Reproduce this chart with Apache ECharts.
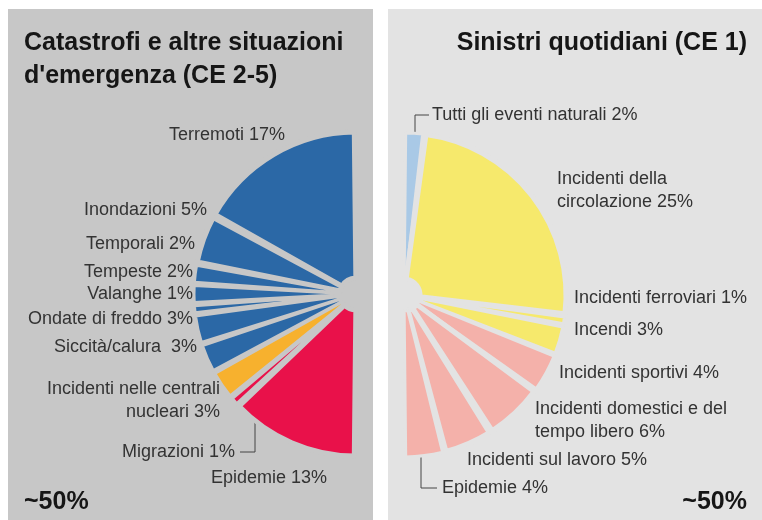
<!DOCTYPE html>
<html>
<head>
<meta charset="utf-8">
<script src="https://cdn.jsdelivr.net/npm/echarts@6/dist/echarts.min.js"></script>
<style>
  html, body { margin: 0; padding: 0; background: #fff; }
  #chart { width: 762px; height: 520px; }
</style>
</head>
<body>
<div id="chart"></div>
<script>
  // CE 2-5: catastrofi e altre situazioni d'emergenza
  const leftNames = ['Terremoti', 'Inondazioni', 'Temporali', 'Tempeste', 'Valanghe', 'Ondate di freddo',
    'Siccità/calura ', 'Incidenti nelle centrali\nnucleari', 'Migrazioni', 'Epidemie'];
  const leftValues = [17, 5, 2, 2, 1, 3, 3, 3, 1, 13];
  const leftGroups = ['nat', 'nat', 'nat', 'nat', 'nat', 'nat', 'nat', 'tec', 'soc', 'soc'];

  // CE 1: sinistri quotidiani
  const rightNames = ['Tutti gli eventi naturali', 'Incidenti della\ncircolazione', 'Incidenti ferroviari', 'Incendi',
    'Incidenti sportivi', 'Incidenti domestici e del\ntempo libero', 'Incidenti sul lavoro', 'Epidemie'];
  const rightValues = [2, 25, 1, 3, 4, 6, 5, 4];
  const rightGroups = ['nat', 'tec', 'tec', 'tec', 'soc', 'soc', 'soc', 'soc'];

  const restShare = 50; // the other ~50% (not drawn)

  // label anchors (layout only)
  const leftLabelPos = [[285,135],[207,210],[195,244],[193,272],[193,294],[193,319],[197,347],[220,401],[235,452],[327,478]];
  const rightLabelPos = [[432,115],[557,191],[574,298],[574,330],[559,373],[535,421],[467,460],[442,488]];
  const leaderLines = {
    '0-8': [[255,415],[255,452],[240,452]],
    '1-0': [[415,136],[415,115],[429,115]],
    '1-7': [[421,457],[421,488],[437,488]]
  };

  const leftBg = '#c7c7c7';
  const rightBg = '#e3e3e3';
  const leftColors = { nat: '#2b68a6', tec: '#f7b12e', soc: '#e9114a' };
  const rightColors = { nat: '#a9c9e6', tec: '#f6e96c', soc: '#f4b1aa' };
  const font = 'Liberation Sans';

  function buildData(names, values, groups, colors, bg, lineItems) {
    const data = names.map(function (n, i) {
      return {
        name: n,
        value: values[i],
        itemStyle: { color: colors[groups[i]], borderColor: bg, borderWidth: values[i] >= 5 ? 5 : 3 },
        labelLine: { show: lineItems.indexOf(i) >= 0 }
      };
    });
    data.push({
      name: 'rest',
      value: restShare,
      itemStyle: { color: 'rgba(0,0,0,0)', borderWidth: 0 },
      label: { show: false },
      labelLine: { show: false },
      emphasis: { disabled: true }
    });
    return data;
  }

  function makeLayout(posList, align) {
    return function (params) {
      const p = posList[params.dataIndex];
      if (!p) return {};
      const out = { x: p[0], y: p[1], align: align, verticalAlign: 'middle' };
      const key = params.seriesIndex + '-' + params.dataIndex;
      if (leaderLines[key]) out.labelLinePoints = leaderLines[key];
      return out;
    };
  }

  const labelStyle = {
    show: true,
    position: 'outside',
    formatter: '{b} {c}%',
    color: '#333333',
    fontFamily: font,
    fontSize: 18,
    lineHeight: 23
  };

  const chart = echarts.init(document.getElementById('chart'), null, { renderer: 'canvas' });
  const option = {
    animation: false,
    backgroundColor: '#ffffff',
    graphic: [
      { type: 'rect', z: -10, shape: { x: 8, y: 9, width: 365, height: 520 }, style: { fill: leftBg } },
      { type: 'rect', z: -10, shape: { x: 388, y: 9, width: 380, height: 520 }, style: { fill: rightBg } }
    ],
    title: [
      {
        text: 'Catastrofi e altre situazioni\nd\'emergenza (CE 2-5)',
        left: 19, top: 22,
        textStyle: { fontFamily: font, fontSize: 25, fontWeight: 'bold', color: '#161616', lineHeight: 33 }
      },
      {
        text: 'Sinistri quotidiani (CE 1)',
        right: 10, top: 22,
        textStyle: { fontFamily: font, fontSize: 25, fontWeight: 'bold', color: '#161616', lineHeight: 33 }
      },
      {
        text: '~50%',
        left: 19, top: 485,
        textStyle: { fontFamily: font, fontSize: 25, fontWeight: 'bold', color: '#161616' }
      },
      {
        text: '~50%',
        right: 10, top: 485,
        textStyle: { fontFamily: font, fontSize: 25, fontWeight: 'bold', color: '#161616' }
      }
    ],
    series: [
      {
        type: 'pie',
        center: [356, 294],
        radius: [16, 162],
        startAngle: 90,
        clockwise: false,
        padAngle: 1.2,
        avoidLabelOverlap: false,
        silent: true,
        label: labelStyle,
        labelLine: { lineStyle: { color: '#444', width: 1 } },
        labelLayout: makeLayout(leftLabelPos, 'right'),
        data: buildData(leftNames, leftValues, leftGroups, leftColors, leftBg, [8])
      },
      {
        type: 'pie',
        center: [404, 295],
        radius: [16, 162],
        startAngle: 90,
        clockwise: true,
        padAngle: 1.2,
        avoidLabelOverlap: false,
        silent: true,
        label: labelStyle,
        labelLine: { lineStyle: { color: '#444', width: 1 } },
        labelLayout: makeLayout(rightLabelPos, 'left'),
        data: buildData(rightNames, rightValues, rightGroups, rightColors, rightBg, [0, 7])
      }
    ]
  };
  chart.setOption(option);
</script>
</body>
</html>
